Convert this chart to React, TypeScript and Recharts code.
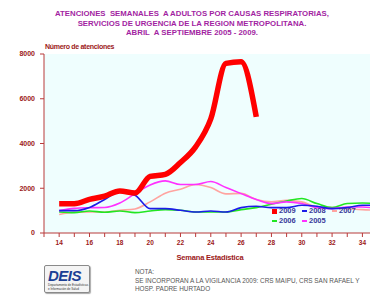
import React from 'react';
import { LineChart, Line, XAxis, YAxis, CartesianGrid } from 'recharts';

const weeks = [14, 15, 16, 17, 18, 19, 20, 21, 22, 23, 24, 25, 26, 27, 28, 29, 30, 31, 32, 33, 34, 35];
const s2009 = [1310, 1310, 1500, 1650, 1880, 1790, 2530, 2620, 3150, 3850, 5100, 7580, 7650, 5190];
const s2008 = [1000, 1000, 1140, 1500, 1840, 1690, 1090, 1090, 1015, 940, 985, 940, 1135, 1195, 1135, 1135, 1240, 1195, 1090, 1135, 1240, 1240];
const s2007 = [830, 930, 940, 940, 1015, 1075, 1390, 1780, 1960, 2170, 2030, 1750, 1770, 1495, 1390, 1460, 1390, 1160, 1135, 1090, 1045, 1020];
const s2006 = [940, 910, 985, 925, 985, 910, 985, 1045, 1015, 940, 940, 940, 1045, 1135, 1285, 1430, 1540, 1315, 1135, 1315, 1340, 1300];
const s2005 = [1000, 1100, 1130, 1140, 1340, 1760, 2150, 2330, 2165, 2165, 2300, 2030, 1760, 1495, 1315, 1390, 1315, 1135, 1090, 1160, 1160, 1100];

const xTicks = [13, 14, 15, 16, 17, 18, 19, 20, 21, 22, 23, 24, 25, 26, 27, 28, 29, 30, 31, 32, 33, 34];
const yTicks = [0, 2000, 4000, 6000, 8000];

const seriesInfo = [
  { key: 'y2009', name: '2009', color: '#ff0000' },
  { key: 'y2008', name: '2008', color: '#1c1ce8' },
  { key: 'y2007', name: '2007', color: '#ffa4a0' },
  { key: 'y2006', name: '2006', color: '#22e622' },
  { key: 'y2005', name: '2005', color: '#ff30ff' },
];

const data = weeks.map((w, i) => ({
  week: w,
  y2009: i < s2009.length ? s2009[i] : null,
  y2008: s2008[i],
  y2007: s2007[i],
  y2006: s2006[i],
  y2005: s2005[i],
}));

const FONT = '"Liberation Sans", Arial, sans-serif';
const AXIS = '#b83a3a';
const LABEL = '#9c1818';

const legendPos = [
  [0, 0],
  [30, 0],
  [60, 0],
  [0, 10],
  [30, 10],
];

const LegendBox = () => (
  <div style={{ position: 'absolute', left: 272, top: 207, width: 100, height: 24 }}>
    {seriesInfo.map((s, i) => (
      <div key={s.key} style={{ position: 'absolute', left: legendPos[i][0], top: legendPos[i][1], display: 'flex', alignItems: 'center' }}>
        <div style={{ width: 5, height: i === 0 ? 5 : 2, background: s.color, marginRight: 2 }} />
        <span style={{ fontSize: 7.5, fontWeight: 'bold', color: '#3a3a9a', fontFamily: FONT, lineHeight: '8px' }}>{s.name}</span>
      </div>
    ))}
  </div>
);

export default function App() {
  return (
    <div style={{ position: 'absolute', left: 0, top: 0, width: 370, height: 298, background: '#fff', fontFamily: FONT, overflow: 'hidden' }}>
      <div style={{ position: 'absolute', left: 0, top: 9, width: 384, textAlign: 'center', color: '#a21fa2', fontWeight: 'bold', fontSize: 7.8, lineHeight: '9.6px' }}>
        <div>ATENCIONES&nbsp; SEMANALES&nbsp; A ADULTOS POR CAUSAS RESPIRATORIAS,</div>
        <div>SERVICIOS DE URGENCIA DE LA REGION METROPOLITANA.</div>
        <div>ABRIL&nbsp; A SEPTIEMBRE 2005 - 2009.</div>
      </div>
      <div style={{ position: 'absolute', left: 45, top: 43, color: LABEL, fontWeight: 'bold', fontSize: 7, letterSpacing: -0.3 }}>Número de atenciones</div>
      <div style={{ position: 'absolute', left: 0, top: 0 }}>
        <LineChart width={370} height={298} data={data} margin={{ top: 54, right: 0, bottom: 0, left: 0 }}>
          <CartesianGrid fill="#effefe" stroke="none" horizontal={false} vertical={false} />
          <XAxis
            dataKey="week"
            type="number"
            domain={[13, 34.5]}
            allowDataOverflow
            ticks={xTicks}
            interval={0}
            tickFormatter={(v: number) => (v % 2 === 0 && v >= 14 ? String(v) : '')}
            height={65}
            stroke={AXIS}
            tickSize={4}
            tickMargin={3}
            tick={{ fill: LABEL, fontSize: 6.5, fontWeight: 'bold', fontFamily: FONT }}
          />
          <YAxis
            type="number"
            domain={[0, 8000]}
            ticks={yTicks}
            interval={0}
            width={44}
            stroke={AXIS}
            tickSize={4}
            tickMargin={5}
            tick={{ fill: LABEL, fontSize: 7, fontWeight: 'bold', fontFamily: FONT }}
          />
          <Line type="monotone" dataKey="y2007" stroke="#ffa4a0" strokeWidth={1.6} dot={false} isAnimationActive={false} />
          <Line type="monotone" dataKey="y2006" stroke="#22e622" strokeWidth={1.6} dot={false} isAnimationActive={false} />
          <Line type="monotone" dataKey="y2005" stroke="#ff30ff" strokeWidth={1.6} dot={false} isAnimationActive={false} />
          <Line type="monotone" dataKey="y2008" stroke="#1c1ce8" strokeWidth={1.6} dot={false} isAnimationActive={false} />
          <Line type="monotone" dataKey="y2009" stroke="#ff0000" strokeWidth={5.5} dot={false} isAnimationActive={false} connectNulls={false} />
        </LineChart>
      </div>
      <LegendBox />
      <div style={{ position: 'absolute', left: 0, width: 420, top: 253, textAlign: 'center', color: LABEL, fontWeight: 'bold', fontSize: 7.5, letterSpacing: -0.2 }}>Semana Estadística</div>
      <div style={{ position: 'absolute', left: 44, top: 265, width: 44, height: 26, border: '1px solid #8a8a8a', borderRadius: 2, background: '#f4f4f4', boxShadow: '1px 1px 1px #aaa' }}>
        <div style={{ position: 'absolute', left: 3, top: 1, fontSize: 15, fontWeight: 900, color: '#1b3f95', letterSpacing: -0.5, fontStyle: 'italic', lineHeight: '17px' }}>DEIS</div>
        <div style={{ position: 'absolute', left: 3, top: 18, fontSize: 3, color: '#333', whiteSpace: 'nowrap', lineHeight: '3.5px' }}>Departamento de Estadísticas<br />e Información de Salud</div>
      </div>
      <div style={{ position: 'absolute', left: 135, top: 268, color: '#555', fontSize: 6.4, lineHeight: '8.5px', whiteSpace: 'nowrap' }}>
        <div>NOTA:</div>
        <div>SE INCORPORAN A LA VIGILANCIA 2009: CRS MAIPU, CRS SAN RAFAEL Y</div>
        <div>HOSP. PADRE HURTADO</div>
      </div>
    </div>
  );
}
